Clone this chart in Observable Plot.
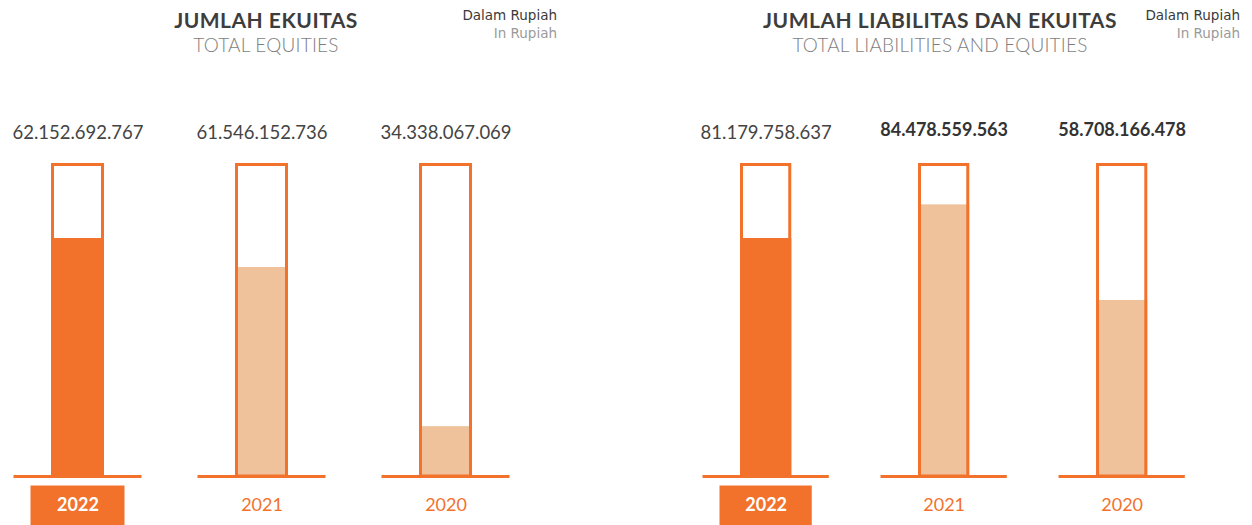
<!DOCTYPE html>
<html>
<head>
<meta charset="utf-8">
<script src="https://cdn.jsdelivr.net/npm/d3@7"></script>
<script src="https://cdn.jsdelivr.net/npm/@observablehq/plot@0.6"></script>
<style>
  html, body { margin: 0; padding: 0; background: #fff; }
  #root { position: relative; width: 1252px; height: 525px; overflow: hidden; font-family: Lato, sans-serif; }
  .panel { position: absolute; top: 0; width: 626px; height: 525px; }
  .panel svg { position: absolute; left: 0; top: 0; }
  .title { position: absolute; width: 500px; text-align: center; font-weight: 700; font-size: 21px; color: #3d3d3d; top: 7px; letter-spacing: 0.5px; }
  .subtitle { position: absolute; width: 500px; text-align: center; font-weight: 300; font-size: 19px; color: #7e7e7e; top: 33px; letter-spacing: 0.2px; }
  .unit { position: absolute; width: 200px; text-align: right; font-family: "DejaVu Sans", sans-serif; font-size: 13.5px; line-height: 17.5px; top: 7px; }
  .unit .a { color: #3a3a3a; }
  .unit .b { color: #9a9a9a; }
</style>
</head>
<body>
<div id="root"></div>
<script>
// ---- data ----
const years = ["2022", "2021", "2020"];
const equityValues = [62152692767, 61546152736, 34338067069];
const totalValues = [81179758637, 84478559563, 58708166478];
// fill level of each tube (fraction of tube height)
const equityFill = [0.764, 0.671, 0.160];
const totalFill = [0.764, 0.872, 0.565];
const panelTitles = ["JUMLAH EKUITAS", "JUMLAH LIABILITAS DAN EKUITAS"];
const panelSubtitles = ["TOTAL EQUITIES", "TOTAL LIABILITIES AND EQUITIES"];
const unitLabels = ["Dalam Rupiah", "In Rupiah"];
const currentYear = "2022";

const ORANGE = "#f2722c";
const LIGHT = "#f0c29c";

const fmt = d3.formatLocale({decimal: ",", thousands: ".", grouping: [3], currency: ["", ""]}).format(",");

const root = document.getElementById("root");

function makePanel(idx, values, fills, opts) {
  const data = years.map((y, i) => ({year: y, value: values[i], level: fills[i]}));
  const cur = data.filter(d => d.year === currentYear);
  const past = data.filter(d => d.year !== currentYear);
  const div = document.createElement("div");
  div.className = "panel";
  div.style.left = opts.left + "px";

  const plot = Plot.plot({
    width: 626,
    height: 525,
    margin: 0,
    x: {domain: years, range: opts.xRange, paddingInner: 0.712, paddingOuter: 0, round: false, axis: null},
    y: {domain: [0, 1], range: [476, 164.5], axis: null},
    marks: [
      // fill level
      Plot.barY(data, {x: "year", y1: 0, y2: "level", fill: d => d.year === currentYear ? ORANGE : LIGHT}),
      // tube outline
      Plot.barY(data, {x: "year", y1: 0, y2: 1, fill: "none", stroke: ORANGE, strokeWidth: 3, insetLeft: 1.5, insetRight: 1.5}),
      // baseline
      Plot.tickY(data, {x: "year", y: 0, stroke: ORANGE, strokeWidth: 3, insetLeft: -37.5, insetRight: -37.5}),
      // current-year label box
      Plot.tickY(cur, {x: "year", y: 0, dy: 29, stroke: ORANGE, strokeWidth: 40, insetLeft: -20.5, insetRight: -20.5}),
      // year labels
      Plot.text(cur, {x: "year", y: 0, dy: 29, text: "year", fontSize: 18, fontFamily: "Lato", fontWeight: "bold", fill: "#fff"}),
      Plot.text(past, {x: "year", y: 0, dy: 29, text: "year", fontSize: 18, fontFamily: "Lato", fill: ORANGE}),
      // value labels
      Plot.text(opts.boldLater ? cur : data, {x: "year", y: 1, dy: -31.5, text: d => fmt(d.value), fontSize: 18.5, fontFamily: "Lato", fill: "#444"}),
      Plot.text(opts.boldLater ? past : [], {x: "year", y: 1, dy: -35, text: d => fmt(d.value), fontSize: 18, fontFamily: "Lato", fontWeight: "bold", fill: "#333"})
    ]
  });
  div.appendChild(plot);

  const t = document.createElement("div");
  t.className = "title";
  t.textContent = panelTitles[idx];
  t.style.left = (opts.titleX - 250) + "px";
  div.appendChild(t);

  const s = document.createElement("div");
  s.className = "subtitle";
  s.textContent = panelSubtitles[idx];
  s.style.left = (opts.titleX - 250) + "px";
  div.appendChild(s);

  const u = document.createElement("div");
  u.className = "unit";
  u.style.left = (opts.unitRight - 200) + "px";
  u.innerHTML = `<div class="a">${unitLabels[0]}</div><div class="b">${unitLabels[1]}</div>`;
  div.appendChild(u);

  root.appendChild(div);
}

makePanel(0, equityValues, equityFill, {left: 0, xRange: [51, 472], titleX: 266, unitRight: 557, boldLater: false});
makePanel(1, totalValues, totalFill, {left: 626, xRange: [114, 521.3], titleX: 314, unitRight: 614, boldLater: true});
</script>
</body>
</html>
